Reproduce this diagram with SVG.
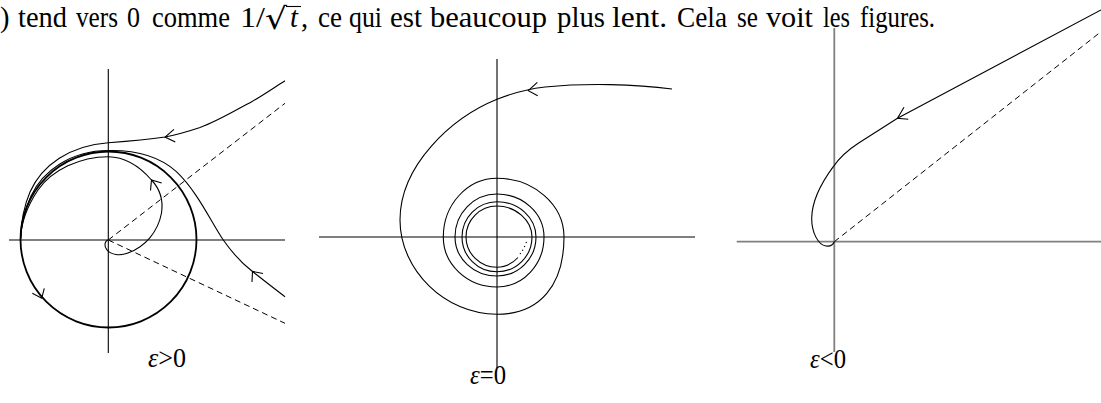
<svg xmlns="http://www.w3.org/2000/svg" width="1101" height="403" viewBox="0 0 1101 403">
<style>
.t{font-family:"Liberation Serif","Times New Roman",serif;font-size:28.5px;fill:#000}
.lab{font-family:"Liberation Serif","Times New Roman",serif;font-size:27px;fill:#000}
.c{fill:none;stroke:#000;stroke-width:1.1}
.ax{fill:none;stroke:#000;stroke-width:1.1}
.axg{fill:none;stroke:#808080;stroke-width:1.8}
.d{fill:none;stroke:#000;stroke-width:1;stroke-dasharray:6 4}
.ar{fill:none;stroke:#000;stroke-width:1.1}
</style>
<rect width="1101" height="403" fill="#fff"/>
<g id="text">
<text class="t" x="0" y="27">)</text>
<text class="t" x="18" y="27" textLength="49" lengthAdjust="spacingAndGlyphs">tend</text>
<text class="t" x="76" y="27" textLength="42" lengthAdjust="spacingAndGlyphs">vers</text>
<text class="t" x="127" y="27" textLength="13" lengthAdjust="spacingAndGlyphs">0</text>
<text class="t" x="152" y="27" textLength="78" lengthAdjust="spacingAndGlyphs">comme</text>
<text class="t" x="240" y="27" textLength="25" lengthAdjust="spacingAndGlyphs">1/</text>
<text x="265" y="29" font-family="'DejaVu Serif',serif" font-size="30" fill="#000" textLength="22" lengthAdjust="spacingAndGlyphs">√</text>
<text class="t" x="290" y="27" font-size="26" font-style="italic">t</text>
<text class="t" x="301" y="27">,</text>
<line x1="286" y1="6.5" x2="301" y2="6.5" stroke="#000" stroke-width="1.1"/>
<text class="t" x="318" y="27" textLength="24" lengthAdjust="spacingAndGlyphs">ce</text>
<text class="t" x="349" y="27" textLength="33" lengthAdjust="spacingAndGlyphs">qui</text>
<text class="t" x="390" y="27" textLength="32" lengthAdjust="spacingAndGlyphs">est</text>
<text class="t" x="430" y="27" textLength="117" lengthAdjust="spacingAndGlyphs">beaucoup</text>
<text class="t" x="557" y="27" textLength="48" lengthAdjust="spacingAndGlyphs">plus</text>
<text class="t" x="612" y="27" textLength="55" lengthAdjust="spacingAndGlyphs">lent.</text>
<text class="t" x="677" y="27" textLength="50" lengthAdjust="spacingAndGlyphs">Cela</text>
<text class="t" x="737" y="27" textLength="21" lengthAdjust="spacingAndGlyphs">se</text>
<text class="t" x="766" y="27" textLength="47" lengthAdjust="spacingAndGlyphs">voit</text>
<text class="t" x="823" y="27" textLength="27" lengthAdjust="spacingAndGlyphs">les</text>
<text class="t" x="860" y="27" textLength="75" lengthAdjust="spacingAndGlyphs">figures.</text>
</g>
<g id="fig-pos">
<path class="ax" d="M108.3,69 V353"/>
<path class="axg" d="M9,240 H285"/>
<path class="d" d="M108.3,240 L285,103.3 M108.3,240 L285,323.3"/>
<circle cx="108.5" cy="239.5" r="88" fill="none" stroke="#000" stroke-width="1.8"/>
<path class="c" d="M285,80.7 C272,89 262,96 251.7,101.7 C236,110 218,121 200,127.5 C188,131.5 176,135 165,137 C145,140 125,141.5 108.3,142.7 C70,145.5 42,165 30,192 C24,206 21,222 20.5,239.5"/>
<path class="c" d="M285,296.7 C272,287 262,279 252.5,271.5 C240,262 231,251 223.3,240 C212,224 198,192 176.4,171.6 C158,155 135,150 108.5,150.5 C70,150.5 42,172 31,196 C25,210 21,224 20.5,239.5"/>
<path class="c" d="M109,239.5 C104,241 104,247 107,250 C111,255 120,256 128,253 C145,247 158,232 161.5,213 C163.5,200 159,188 151.5,180 C142,169 128,157 108.3,156.7 C80,156.7 52,170 38,190 C28,205 21,222 20.5,239.5"/>
<path class="ar" d="M174,129.3 L165,137 L175.3,142 M252,282 L252.5,271.5 L263,273.5 M150.5,190.5 L151.5,180 L161.7,183 M32.3,293.3 L41.7,298.3 L44.3,288.3"/>
<text class="lab" x="148" y="367" textLength="38" lengthAdjust="spacingAndGlyphs"><tspan font-style="italic">ε</tspan>&gt;0</text>
</g>
<g id="fig-zero">
<path class="ax" d="M497,59 V368 M319,237 H695"/>
<path class="c" d="M672,89 C635,84 585,83 545,87 C528,89 510,94 497,99.3 C452,117.5 400,165 400,220 C400,270 445,314.3 497,314.3 C540,314.3 564,285 564,237 C564,205 534,178.3 497,178.3 C467.4,178.3 443.3,204.6 443.3,237 C443.3,264.6 467.4,287 497,287 C523,287 544,264.6 544,237 C544,213.3 523,194 497,194 C473.8,194 455,213.3 455,237 C455,258.5 473.8,276 497,276 C518.5,276 536,258.5 536,237 C536,217.5 518.5,201.7 497,201.7 C477.7,201.7 462,217.5 462,237 C462,256.2 477.7,271.7 497,271.7 C516.3,271.7 532,256.2 532,237 C532,219.9 515.3,206 497,206 C479.9,206 466,219.9 466,237 C466,253.7 480.3,267.3 497,267.3 C505,267.3 512.5,263.5 518,257.5"/>
<path d="M520,254 Q524,249 526.5,242" fill="none" stroke="#000" stroke-width="1.2" stroke-dasharray="1.2 3"/>
<path class="ar" d="M537.3,82.3 L528.3,90.7 L537.7,95.7"/>
<text class="lab" x="470" y="384" textLength="36" lengthAdjust="spacingAndGlyphs"><tspan font-style="italic">ε</tspan>=0</text>
</g>
<g id="fig-neg">
<path class="axg" d="M834.3,28 V352 M736.7,241.7 H1101" stroke-width="1.5"/>
<path class="d" d="M834.3,241.7 L1101,31.7"/>
<path class="c" d="M1101,10 L897.5,118.3 L858.3,143.3 C848,150 840,157 833.3,166.7 C822,182 812,200 811.7,218 C811.5,232 818,245 826,246 C830,246.5 833,245 834.3,241.7"/>
<path class="ar" d="M904,107.3 L897.5,118.3 L908.3,119.3"/>
<text class="lab" x="810" y="368" textLength="36" lengthAdjust="spacingAndGlyphs"><tspan font-style="italic">ε</tspan>&lt;0</text>
</g>
</svg>
